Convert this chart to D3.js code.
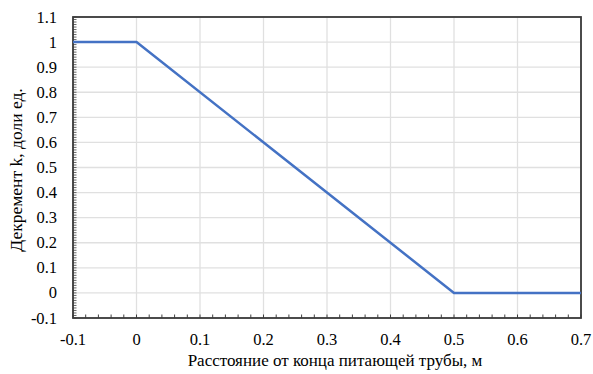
<!DOCTYPE html>
<html><head><meta charset="utf-8">
<script src="https://cdn.jsdelivr.net/npm/d3@7"></script>
<style>body{margin:0;background:#fff}svg{display:block}</style>
</head><body><svg id="c" width="593" height="374"></svg>
<script>
const xValues = [-0.1, 0, 0.5, 0.7];
const yValues = [1, 1, 0, 0];
const xTicks = [-0.1, 0, 0.1, 0.2, 0.3, 0.4, 0.5, 0.6, 0.7];
const yTicks = [-0.1, 0, 0.1, 0.2, 0.3, 0.4, 0.5, 0.6, 0.7, 0.8, 0.9, 1, 1.1];
const xTitle = "Расстояние от конца питающей трубы, м";
const yTitle = "Декремент k, доли ед.";

const FONT = "'Liberation Serif', 'Times New Roman', 'DejaVu Serif', serif";
const svg = d3.select("#c").style("font-family", FONT);
const L = 73, R = 581, T = 17, B = 318;
const x = d3.scaleLinear().domain([-0.1, 0.7]).range([L, R]);
const y = d3.scaleLinear().domain([-0.1, 1.1]).range([B, T]);

// grid
svg.append("g").selectAll("line").data(xTicks).join("line")
  .attr("x1", d => x(d)).attr("x2", d => x(d)).attr("y1", T).attr("y2", B)
  .attr("stroke", "#e0e0e0").attr("stroke-width", 1.3);
svg.append("g").selectAll("line").data(yTicks).join("line")
  .attr("y1", d => y(d)).attr("y2", d => y(d)).attr("x1", L).attr("x2", R)
  .attr("stroke", "#e0e0e0").attr("stroke-width", 1.3);

// minor ticks (inside)
const xMinor = d3.range(0, 41).map(i => -0.1 + i * 0.02);
const yMinor = d3.range(0, 121).map(i => -0.1 + i * 0.01);
svg.append("g").selectAll("line").data(xMinor).join("line")
  .attr("x1", d => x(d)).attr("x2", d => x(d)).attr("y1", B).attr("y2", B - 3.5)
  .attr("stroke", "#404040").attr("stroke-width", 1);
svg.append("g").selectAll("line").data(yMinor).join("line")
  .attr("y1", d => y(d)).attr("y2", d => y(d)).attr("x1", L).attr("x2", L + 3.5)
  .attr("stroke", "#404040").attr("stroke-width", 0.8);

// frame
svg.append("rect").attr("x", L).attr("y", T).attr("width", R - L).attr("height", B - T)
  .attr("fill", "none").attr("stroke", "#3a3a3a").attr("stroke-width", 1.8);

// tick labels
svg.append("g").selectAll("text").data(xTicks).join("text")
  .attr("x", d => x(d)).attr("y", B + 27).attr("text-anchor", "middle")
  .attr("font-family", FONT).attr("font-size", 16.5).attr("fill", "#000")
  .text(d => String(+d.toFixed(1)));
svg.append("g").selectAll("text").data(yTicks).join("text")
  .attr("x", L - 16).attr("y", d => y(d) + 5.5).attr("text-anchor", "end")
  .attr("font-family", FONT).attr("font-size", 16.5).attr("fill", "#000")
  .text(d => String(+d.toFixed(1)));

// line
const line = d3.line().x(d => x(d[0])).y(d => y(d[1]));
svg.append("path").datum(xValues.map((v, i) => [v, yValues[i]]))
  .attr("d", line).attr("fill", "none").attr("stroke", "#4472C4").attr("stroke-width", 2.5);

// titles
svg.append("text").attr("x", 335).attr("y", 366).attr("text-anchor", "middle")
  .attr("font-family", FONT).attr("font-size", 17).attr("fill", "#000").text(xTitle);
svg.append("text").attr("transform", "translate(22,170) rotate(-90)")
  .attr("text-anchor", "middle").attr("font-family", FONT).attr("font-size", 17.5)
  .attr("fill", "#000").text(yTitle);
</script></body></html>
